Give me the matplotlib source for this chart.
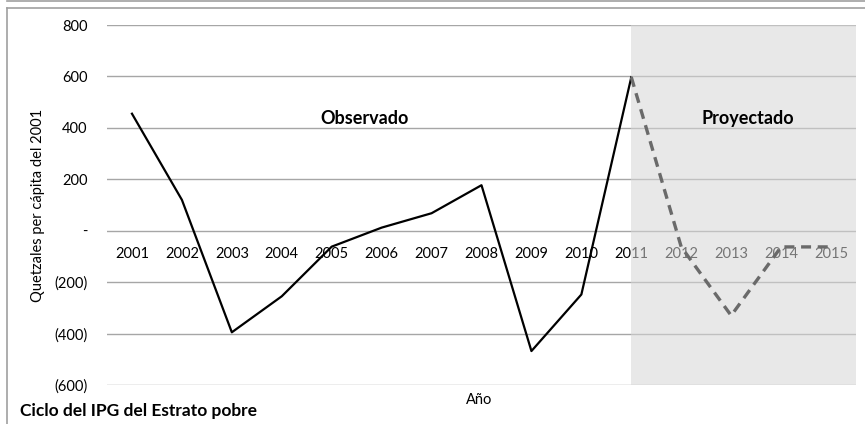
import matplotlib
matplotlib.use("Agg")
import matplotlib.pyplot as plt
from matplotlib.lines import Line2D

plt.rcParams["font.family"] = ["Lato", "DejaVu Sans"]

years = ["2001", "2002", "2003", "2004", "2005", "2006", "2007", "2008",
         "2009", "2010", "2011", "2012", "2013", "2014", "2015"]
observado = [455, 120, -395, -255, -62, 12, 68, 177, -468, -248, 597]
proyectado = [597, -63, -330, -63, -63]
yticks = [800, 600, 400, 200, 0, -200, -400, -600]
yticklabels = ["800", "600", "400", "200", "-", "(200)", "(400)", "(600)"]

fig = plt.figure(figsize=(8.65, 4.24), dpi=100)
ax = fig.add_axes([107 / 865, 1 - 385 / 424, 749 / 865, 360 / 424])

x_obs = list(range(len(observado)))
x_proj = list(range(10, 10 + len(proyectado)))

for y in yticks:
    ax.axhline(y, color="#a6a6a6", lw=1.0, zorder=1)

ax.plot(x_obs, observado, color="black", lw=1.6, zorder=2)
ax.plot(x_proj, proyectado, color="#6a6a6a", lw=2.4, ls=(0, (3, 2)), zorder=4)

# shaded projection area drawn over labels (semi-transparent, as in the source)
ax.axvspan(10, 14.5, color="#d6d6d6", alpha=0.55, lw=0, zorder=3)

ax.set_xlim(-0.5, 14.5)
ax.set_ylim(-600, 800)
ax.set_yticks(yticks)
ax.set_yticklabels(yticklabels)
ax.set_xticks(range(len(years)))
ax.set_xticklabels(years)
ax.spines["bottom"].set_position(("data", 0))
for s in ax.spines.values():
    s.set_visible(False)
ax.tick_params(axis="both", length=0, labelsize=10.5, colors="black")
ax.tick_params(axis="x", pad=12)
ax.tick_params(axis="y", pad=14)

ax.text(4.65, 438, "Observado", ha="center", va="center",
        fontsize=13, fontweight="bold", zorder=5)
ax.text(12.34, 438, "Proyectado", ha="center", va="center",
        fontsize=13, fontweight="bold", zorder=5)

fig.text(38 / 865, 1 - 205 / 424, "Quetzales per cápita del 2001",
         rotation=90, ha="center", va="center", fontsize=10.5)
fig.text(479 / 865, 1 - 400 / 424, "Año", ha="center", va="center", fontsize=10.5)
fig.text(20 / 865, 1 - 411 / 424, "Ciclo del IPG del Estrato pobre",
         ha="left", va="center", fontsize=12.5, fontweight="bold")

# outer frame lines
frame = dict(color="#a0a0a0", lw=1.2, transform=fig.transFigure)
fig.add_artist(Line2D([7 / 865, 1], [1 - 1 / 424, 1 - 1 / 424], **frame))
fig.add_artist(Line2D([7 / 865, 1], [1 - 8 / 424, 1 - 8 / 424], **frame))
fig.add_artist(Line2D([7 / 865, 7 / 865], [0, 1 - 8 / 424], **frame))

fig.savefig("out.png", dpi=100)
